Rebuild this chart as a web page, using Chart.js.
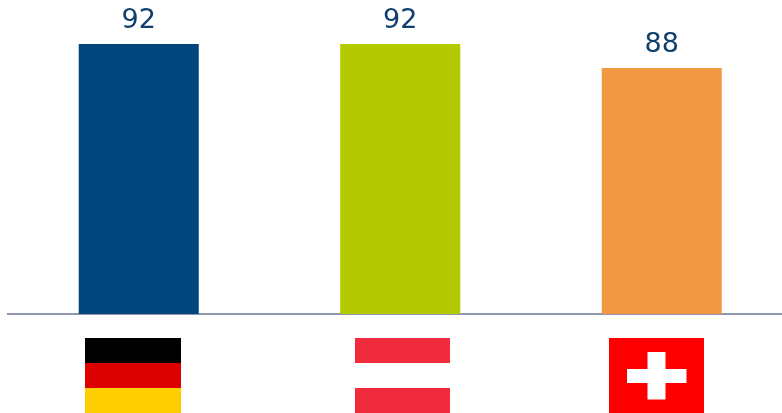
<!DOCTYPE html>
<html>
<head>
<meta charset="utf-8">
<script src="https://cdn.jsdelivr.net/npm/chart.js@4"></script>
<style>
    html, body { margin: 0; padding: 0; background: #fff; overflow: hidden; }
    canvas { display: block; }
</style>
</head>
<body>
<canvas id="countryChart" width="800" height="413"></canvas>
<script>
// Chart data
const countries = ['Deutschland', 'Österreich', 'Schweiz'];
const scores = [92, 92, 88];
const barColors = ['#00457c', '#b3c900', '#f39842'];

// Value labels above the bars
const valueLabels = {
    id: 'valueLabels',
    afterDatasetsDraw(chart) {
        const ctx = chart.ctx;
        ctx.save();
        ctx.font = '27px "DejaVu Sans"';
        ctx.fillStyle = '#0f3f6d';
        ctx.textAlign = 'center';
        ctx.textBaseline = 'alphabetic';
        chart.getDatasetMeta(0).data.forEach((bar, i) => {
            ctx.fillText(scores[i], bar.x, bar.y - 16.5);
        });
        ctx.restore();
    }
};

// Flags under the axis, one per category
const flags = {
    id: 'flags',
    afterDraw(chart) {
        const ctx = chart.ctx;
        const xScale = chart.scales.x;
        const top = 338, h = 75;
        const widths = [96, 95, 95];
        const offsets = [-6, 2.7, -5.5];
        const stripes = [['#000000', '#dd0000', '#ffce00'], ['#ef2b3d', '#ffffff', '#ef2b3d']];

        const left = i => Math.round(xScale.getPixelForValue(i) + offsets[i] - widths[i] / 2);

        // Germany and Austria are three horizontal stripes
        stripes.forEach((colors, i) => {
            colors.forEach((color, s) => {
                ctx.fillStyle = color;
                ctx.fillRect(left(i), top + s * h / 3, widths[i], h / 3);
            });
        });

        // Switzerland
        const x = left(2);
        ctx.fillStyle = '#ff0000';
        ctx.fillRect(x, top, widths[2], h);
        ctx.fillStyle = '#ffffff';
        ctx.fillRect(x + 18, top + 31, 59.5, 14);
        ctx.fillRect(x + 38.5, top + 14, 18, 47.5);
    }
};

new Chart(document.getElementById('countryChart'), {
    type: 'bar',
    data: {
        labels: countries,
        datasets: [{
            data: scores,
            backgroundColor: barColors,
            borderWidth: 0,
            categoryPercentage: 1,
            barPercentage: 0.459
        }]
    },
    options: {
        responsive: false,
        animation: false,
        layout: { padding: { left: 8, right: 7.5, top: 14, bottom: 91 } },
        plugins: {
            legend: { display: false },
            title: { display: false },
            tooltip: { enabled: false }
        },
        scales: {
            x: {
                z: 1,
                grid: { display: false },
                border: { color: '#8f96ad', width: 2 },
                ticks: { display: false }
            },
            y: {
                display: false,
                min: 47,
                max: 97
            }
        }
    },
    plugins: [valueLabels, flags]
});
</script>
</body>
</html>
